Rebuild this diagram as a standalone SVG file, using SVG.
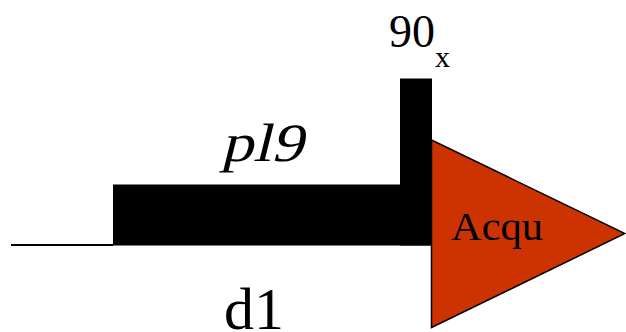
<svg xmlns="http://www.w3.org/2000/svg" width="626" height="332" viewBox="0 0 626 332">
<style>
.t{font-family:"Liberation Serif","Times New Roman",serif;fill:#000}
.blk{fill:#000}
</style>
<rect width="626" height="332" fill="#fff"/>
<g id="connectors">
<line x1="11" y1="245" x2="113" y2="245" stroke="#000" stroke-width="2"/>
</g>
<g id="pl9-pulse">
<rect class="blk" x="113" y="184.5" width="319" height="61"/>
<text class="t" x="0" y="0" font-size="54" transform="translate(221,161) skewX(-14)" textLength="82" lengthAdjust="spacingAndGlyphs">pl9</text>
</g>
<g id="pulse90">
<rect class="blk" x="400" y="78.5" width="32" height="167"/>
<text class="t" x="389" y="47" font-size="46">90<tspan font-size="30" dy="20">x</tspan></text>
</g>
<g id="acqu">
<polygon points="431.5,140 625,233.5 431.5,327.5" fill="#cc3300" stroke="#000" stroke-width="1.5"/>
<text class="t" x="451" y="240" font-size="41" textLength="92" lengthAdjust="spacingAndGlyphs">Acqu</text>
</g>
<g id="d1">
<text class="t" x="224" y="329" font-size="59" textLength="60" lengthAdjust="spacingAndGlyphs">d1</text>
</g>
</svg>
